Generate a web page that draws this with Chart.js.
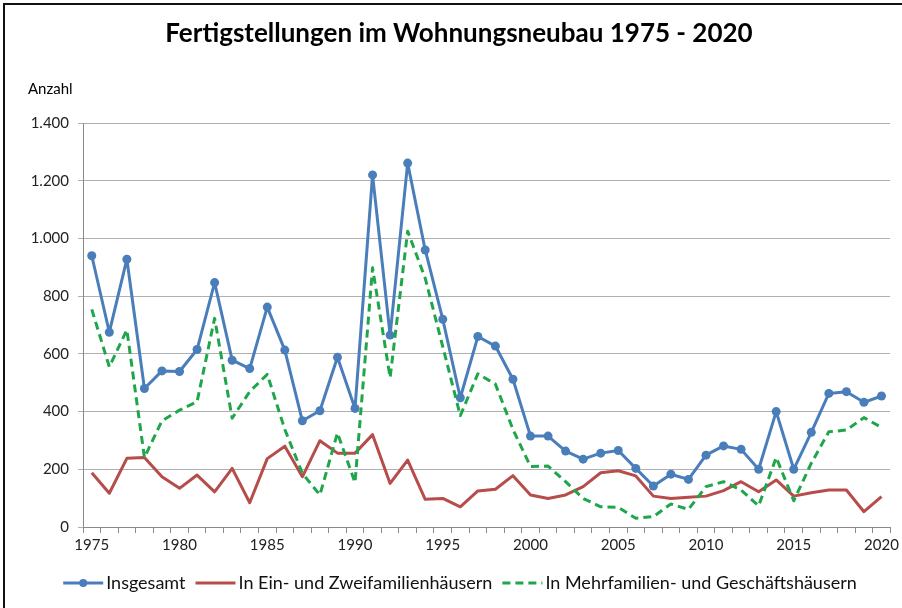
<!DOCTYPE html>
<html>
<head>
<meta charset="utf-8">
<script src="https://cdn.jsdelivr.net/npm/chart.js@4.4.0/dist/chart.umd.min.js"></script>
<style>
html,body{margin:0;padding:0;background:#fff;}
#wrap{width:902px;height:608px;position:relative;overflow:hidden;}
canvas{display:block;}
</style>
</head>
<body>
<div id="wrap"><canvas id="c" width="902" height="608"></canvas></div>
<script>
const TITLE = 'Fertigstellungen im Wohnungsneubau 1975 - 2020';
const Y_LABEL = 'Anzahl';
const years = [1975,1976,1977,1978,1979,1980,1981,1982,1983,1984,
               1985,1986,1987,1988,1989,1990,1991,1992,1993,1994,
               1995,1996,1997,1998,1999,2000,2001,2002,2003,2004,
               2005,2006,2007,2008,2009,2010,2011,2012,2013,2014,
               2015,2016,2017,2018,2019,2020];
const xTickLabels = [1975,1980,1985,1990,1995,2000,2005,2010,2015,2020];
const seriesNames = ['Insgesamt','In Ein- und Zweifamilienhäusern','In Mehrfamilien- und Geschäftshäusern'];
const insgesamt = [940,675,928,480,541,539,615,847,578,549,
                   762,613,368,403,588,411,1220,665,1261,960,
                   720,448,660,627,512,315,315,263,235,256,
                   265,203,142,183,165,249,281,269,200,400,
                   200,328,463,469,432,454];
const einZwei = [188,117,238,241,174,134,180,122,203,84,
                 237,280,174,299,256,256,320,151,232,96,
                 99,70,125,131,178,111,99,111,140,188,
                 195,177,107,99,103,107,126,157,122,163,
                 107,119,128,128,53,105];
const mehr = [754,555,683,241,368,405,434,723,377,469,
              529,338,186,111,326,154,898,518,1025,862,
              625,386,531,495,338,210,211,157,99,70,
              68,30,36,80,61,140,157,128,73,241,
              91,221,330,336,379,345];
const yTicks = [0,200,400,600,800,1000,1200,1400];

const BLUE = '#4a7ebb';
const RED = '#b64d4a';
const GREEN = '#1fa64a';
const FONT = 'Lato, "Open Sans", sans-serif';

function fmt(v){ return String(v).replace(/\B(?=(\d{3})+(?!\d))/g,'.'); }

const decor = {
  id: 'decor',
  beforeDraw(chart){
    const ctx = chart.ctx;
    ctx.save(); ctx.fillStyle = '#fff'; ctx.fillRect(0,0,chart.width,chart.height); ctx.restore();
  },
  afterDraw(chart){
    const ctx = chart.ctx;
    ctx.save();
    // frame
    ctx.strokeStyle = '#111'; ctx.lineWidth = 2;
    ctx.beginPath(); ctx.moveTo(4,608); ctx.lineTo(4,4); ctx.lineTo(902,4); ctx.stroke();
    // title
    ctx.fillStyle = '#000';
    ctx.font = 'bold 26px ' + FONT;
    ctx.textAlign = 'center'; ctx.textBaseline = 'middle';
    ctx.fillText(TITLE, 459, 34);
    // y label
    ctx.font = '15px ' + FONT;
    ctx.textAlign = 'left';
    ctx.fillText(Y_LABEL, 28, 89);
    // legend
    ctx.font = '18px ' + FONT;
    const sample = 40, gapT = 3, gapI = 10;
    const items = chart.data.datasets.map(d => ({d, w: ctx.measureText(d.label).width}));
    let total = 0;
    items.forEach((it,i) => { total += sample + gapT + it.w + (i < items.length-1 ? gapI : 0); });
    let x = 460 - total/2;
    const y = 583;
    items.forEach(it => {
      const d = it.d;
      ctx.strokeStyle = d.borderColor; ctx.lineWidth = d.borderWidth;
      ctx.setLineDash(d.borderDash || []);
      ctx.beginPath(); ctx.moveTo(x, y); ctx.lineTo(x + sample, y); ctx.stroke();
      ctx.setLineDash([]);
      if (d.pointRadius > 0) {
        ctx.fillStyle = d.pointBackgroundColor;
        ctx.beginPath(); ctx.arc(x + sample/2, y, d.pointRadius - 0.5, 0, Math.PI*2); ctx.fill();
      }
      x += sample + gapT;
      ctx.fillStyle = '#111'; ctx.textAlign = 'left'; ctx.textBaseline = 'middle';
      ctx.fillText(d.label, x, y);
      x += it.w + gapI;
    });
    ctx.restore();
  }
};

new Chart(document.getElementById('c').getContext('2d'), {
  type: 'line',
  data: {
    labels: years,
    datasets: [
      {label: seriesNames[0], data: insgesamt, borderColor: BLUE, backgroundColor: BLUE,
       borderWidth: 3, pointRadius: 4.5, pointBackgroundColor: BLUE, pointBorderColor: BLUE,
       pointBorderWidth: 0, tension: 0, borderJoinStyle: 'round', order: 3},
      {label: seriesNames[1], data: einZwei, borderColor: RED, backgroundColor: RED,
       borderWidth: 3, pointRadius: 0, tension: 0, borderJoinStyle: 'round', order: 2},
      {label: seriesNames[2], data: mehr, borderColor: GREEN, backgroundColor: GREEN,
       borderWidth: 3, borderDash: [8,5], pointRadius: 0, tension: 0, borderJoinStyle: 'round', order: 1}
    ]
  },
  options: {
    responsive: false, animation: false, devicePixelRatio: 1,
    layout: {padding: {top: 123, left: 0, right: 10, bottom: 51}},
    plugins: {legend: {display: false}, title: {display: false}, tooltip: {enabled: false}},
    scales: {
      x: {
        type: 'category', offset: true,
        grid: {offset: true, drawOnChartArea: false, drawTicks: true, tickLength: 6, color: '#8a8a8a'},
        border: {color: '#8a8a8a', width: 1},
        ticks: {
          autoSkip: false, maxRotation: 0, minRotation: 0, padding: 3,
          color: '#222', font: {family: FONT, size: 15},
          callback: function(v){ const l = this.getLabelForValue(v); return xTickLabels.includes(Number(l)) ? String(l) : ''; }
        },
        afterFit(s){ s.height = 30; }
      },
      y: {
        min: yTicks[0], max: yTicks[yTicks.length-1],
        afterBuildTicks(s){ s.ticks = yTicks.map(v => ({value: v})); },
        ticks: {padding: 9, color: '#222', font: {family: FONT, size: 15}, callback: v => fmt(v)},
        grid: {color: '#b0b0b0', tickLength: 5, drawTicks: true},
        border: {color: '#8a8a8a', width: 1},
        afterFit(s){ s.width = 83; }
      }
    }
  },
  plugins: [decor]
});
</script>
</body>
</html>
